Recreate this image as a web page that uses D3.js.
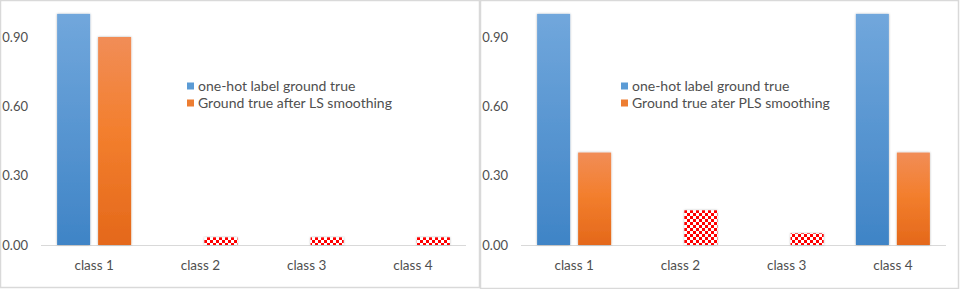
<!DOCTYPE html>
<html>
<head>
<meta charset="utf-8">
<script src="https://cdn.jsdelivr.net/npm/d3@7"></script>
<style>
  body { margin: 0; background: #fff; }
  svg text { font-family: Lato, "Open Sans", sans-serif; fill: #4f4f4f; }
</style>
</head>
<body>
<div id="chart"></div>
<script>
var width = 960,
    height = 289;

// data
var classes = ["class 1", "class 2", "class 3", "class 4"];
var yTicks = [0, 0.3, 0.6, 0.9];

var leftOneHot = [1, 0, 0, 0];
var leftSmooth = [0.9, 0.033, 0.033, 0.033];
var leftNames = ["one-hot label ground true", "Ground true after LS smoothing"];

var rightOneHot = [1, 0, 0, 1];
var rightSmooth = [0.4, 0.15, 0.05, 0.4];
var rightNames = ["one-hot label ground true", "Ground true ater PLS smoothing"];

var svg = d3.select("#chart").append("svg")
    .attr("width", width)
    .attr("height", height);

var defs = svg.append("defs");

var blueGrad = defs.append("linearGradient").attr("id", "blueGrad")
    .attr("x1", 0).attr("y1", 0).attr("x2", 0).attr("y2", 1);
blueGrad.append("stop").attr("offset", "0%").attr("stop-color", "#71a7dc");
blueGrad.append("stop").attr("offset", "100%").attr("stop-color", "#3f84c6");

var orangeGrad = defs.append("linearGradient").attr("id", "orangeGrad")
    .attr("x1", 0).attr("y1", 0).attr("x2", 0).attr("y2", 1);
orangeGrad.append("stop").attr("offset", "0%").attr("stop-color", "#f18d57");
orangeGrad.append("stop").attr("offset", "45%").attr("stop-color", "#f37f2e");
orangeGrad.append("stop").attr("offset", "100%").attr("stop-color", "#e4681a");

var checks = defs.append("pattern").attr("id", "checks")
    .attr("patternUnits", "userSpaceOnUse")
    .attr("width", 6).attr("height", 6);
checks.append("rect").attr("width", 6).attr("height", 6).attr("fill", "#fff");
checks.append("rect").attr("width", 3).attr("height", 3).attr("fill", "#ff0000");
checks.append("rect").attr("x", 3).attr("y", 3).attr("width", 3).attr("height", 3).attr("fill", "#ff0000");

var shadow = defs.append("filter").attr("id", "shadow")
    .attr("x", "-30%").attr("y", "-10%").attr("width", "160%").attr("height", "120%");
shadow.append("feDropShadow")
    .attr("dx", 0).attr("dy", 0).attr("stdDeviation", 1.2)
    .attr("flood-color", "#000").attr("flood-opacity", 0.3);

function drawPanel(box, axis, oneHot, smooth, names, legendX) {
  var p = svg.append("g");

  p.append("rect")
      .attr("x", box.x + 0.5).attr("y", 0.5)
      .attr("width", box.w - 1).attr("height", box.h - 1)
      .attr("fill", "#fff")
      .attr("stroke", "#d9d9d9")
      .attr("stroke-width", 1.5);

  var x = d3.scaleBand()
      .domain(classes)
      .range([axis.x0, axis.x1]);

  var y = d3.scaleLinear()
      .domain([0, 0.9])
      .range([245, 37]);

  var bw = 33, gap = 8;

  // y tick labels
  p.append("g").selectAll("text")
    .data(yTicks)
    .enter().append("text")
      .attr("x", axis.labelX)
      .attr("y", function(d) { return y(d); })
      .attr("dy", "0.35em")
      .attr("text-anchor", "end")
      .attr("font-size", 13)
      .text(d3.format(".2f"));

  // baseline
  p.append("line")
      .attr("x1", axis.x0).attr("x2", axis.x1)
      .attr("y1", y(0) + 0.5).attr("y2", y(0) + 0.5)
      .attr("stroke", "#d9d9d9");

  // one-hot bars
  p.append("g").selectAll("rect")
    .data(oneHot)
    .enter().append("rect")
      .attr("x", function(d, i) { return x(classes[i]) + x.bandwidth() / 2 - gap / 2 - bw; })
      .attr("y", function(d) { return y(d); })
      .attr("width", bw)
      .attr("height", function(d) { return y(0) - y(d); })
      .attr("fill", "url(#blueGrad)")
      .attr("filter", function(d) { return d > 0 ? "url(#shadow)" : null; });

  // smoothed bars, checkered where the one-hot label is 0
  p.append("g").selectAll("rect")
    .data(smooth)
    .enter().append("rect")
      .attr("x", function(d, i) { return x(classes[i]) + x.bandwidth() / 2 + gap / 2; })
      .attr("y", function(d) { return y(d); })
      .attr("width", bw)
      .attr("height", function(d) { return y(0) - y(d); })
      .attr("fill", function(d, i) { return oneHot[i] > 0 ? "url(#orangeGrad)" : "url(#checks)"; })
      .attr("filter", "url(#shadow)");

  // category labels
  p.append("g").selectAll("text")
    .data(classes)
    .enter().append("text")
      .attr("x", function(d) { return x(d) + x.bandwidth() / 2; })
      .attr("y", 265)
      .attr("dy", "0.35em")
      .attr("text-anchor", "middle")
      .attr("font-size", 13.5)
      .text(function(d) { return d; });

  // legend
  var legend = p.append("g")
    .selectAll("g")
    .data(names)
    .enter().append("g")
      .attr("transform", function(d, i) { return "translate(" + legendX + "," + (86 + i * 17) + ")"; });

  legend.append("rect")
      .attr("x", 0)
      .attr("y", -3.5)
      .attr("width", 7)
      .attr("height", 7)
      .attr("fill", function(d, i) { return i == 0 ? "#5b9bd5" : "#ed7d31"; });

  legend.append("text")
      .attr("x", 11)
      .attr("dy", "0.35em")
      .attr("font-size", 14)
      .text(function(d) { return d; });
}

drawPanel({x: 0, w: 480, h: 288}, {x0: 41, x1: 466, labelX: 28},
          leftOneHot, leftSmooth, leftNames, 187);
drawPanel({x: 480, w: 479, h: 289}, {x0: 521, x1: 946, labelX: 508},
          rightOneHot, rightSmooth, rightNames, 621);
</script>
</body>
</html>
